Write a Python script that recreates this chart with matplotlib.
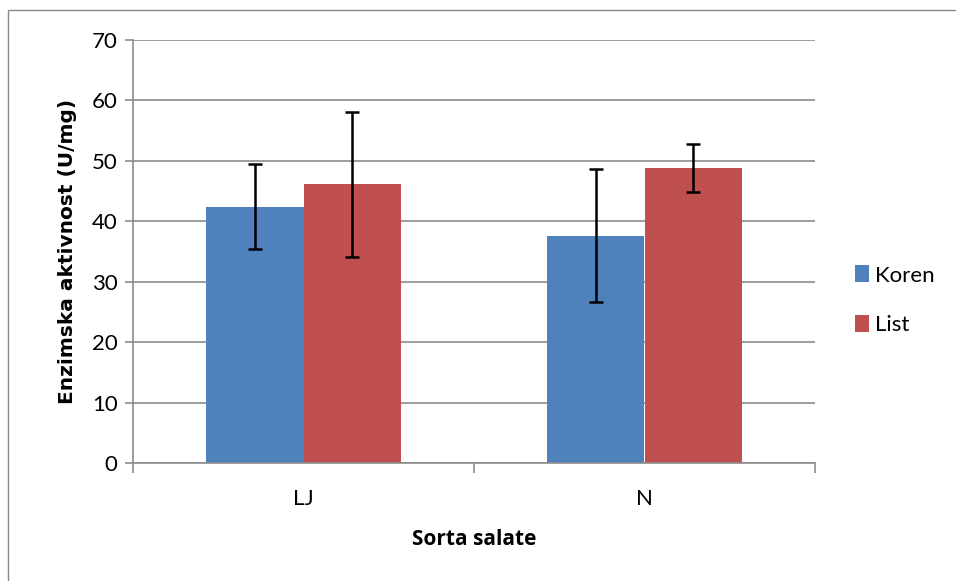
import matplotlib
matplotlib.use("Agg")
import matplotlib.pyplot as plt
from matplotlib.patches import Rectangle
import numpy as np

categories = ["LJ", "N"]
series_names = ["Koren", "List"]
koren = [42.4, 37.6]
koren_err = [7.0, 11.0]
lista = [46.1, 48.8]
lista_err = [12.0, 3.95]
yticks = [0, 10, 20, 30, 40, 50, 60, 70]

plt.rcParams['font.family'] = ['Lato', 'DejaVu Sans']

fig = plt.figure(figsize=(9.56, 5.81), dpi=100)
fig.patches.append(Rectangle((8/956, -0.1), 2.0, 1.1 - 10/581, transform=fig.transFigure,
                             fill=False, edgecolor='#888888', linewidth=1.0))
ax = fig.add_axes([133/956, 1 - 463/581, (815-133)/956, (463-40)/581])

x = np.arange(len(categories))
w = 1/3.5
blue = '#4F81BD'
red = '#C0504D'
ax.bar(x - w/2, koren, w, color=blue, label=series_names[0], zorder=2)
ax.bar(x + w/2, lista, w, color=red, label=series_names[1], zorder=2)
ax.errorbar(x - w/2, koren, yerr=koren_err, fmt='none', ecolor='black', elinewidth=1.8,
            capsize=5, capthick=1.8, zorder=3)
ax.errorbar(x + w/2, lista, yerr=lista_err, fmt='none', ecolor='black', elinewidth=1.8,
            capsize=5, capthick=1.8, zorder=3)

ax.set_xlim(-0.5, 1.5)
ax.set_ylim(0, 70)
ax.set_yticks(yticks)
ax.yaxis.grid(True, color='#8C8C8C', linewidth=1.2, zorder=0)
ax.set_axisbelow(True)
for s in ['top', 'right']:
    ax.spines[s].set_visible(False)
ax.spines['left'].set_color('#8C8C8C')
ax.spines['bottom'].set_color('#8C8C8C')
ax.spines['left'].set_linewidth(1.2)
ax.spines['bottom'].set_linewidth(1.2)

ax.set_xticks(x)
ax.set_xticklabels(categories, fontsize=16)
ax.tick_params(axis='x', length=0, pad=19)
ax.set_xticks([-0.5, 0.5, 1.5], minor=True)
ax.tick_params(axis='x', which='minor', length=7, color='#8C8C8C', width=1.2)
ax.tick_params(axis='y', length=6, color='#8C8C8C', width=1.2, labelsize=16, pad=5)

ax.set_ylabel("Enzimska aktivnost (U/mg)", fontsize=14.5, fontweight='bold', labelpad=11,
              family=['DejaVu Sans'])
ax.set_xlabel("Sorta salate", fontsize=15, fontweight='bold', labelpad=14,
              family=['Open Sans', 'DejaVu Sans'])

ax.legend(loc='center left', bbox_to_anchor=(1.03, 0.385), frameon=False, fontsize=16,
          handlelength=0.6, handleheight=0.8, handletextpad=0.3, labelspacing=1.3)

fig.savefig("out.png", dpi=100)
